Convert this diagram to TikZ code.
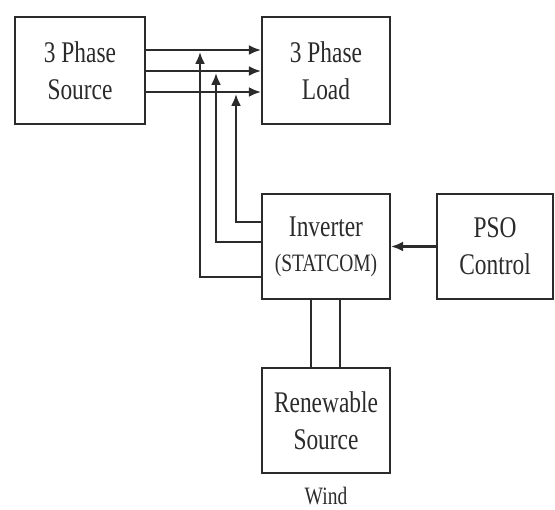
\documentclass[tikz,border=0pt]{standalone}
\usepackage{fontspec}
\setmainfont{Liberation Serif}[FakeStretch=0.78]
\usetikzlibrary{arrows.meta}
\definecolor{ink}{HTML}{2B2B2B}
\tikzset{
  blk/.style={draw=ink, line width=2.2pt, inner sep=0pt, align=center,
    font=\fontsize{30}{37}\selectfont, text=ink},
  wire/.style={draw=ink, line width=2.2pt},
  arr/.style={wire, -{Latex[length=12pt,width=10pt]}}
}
\begin{document}
\begin{tikzpicture}[x=1pt,y=-1pt]
\useasboundingbox (0,0) rectangle (555,510);
\node[blk, minimum width=130pt, minimum height=107pt] (src) at (80,70.5) {3 Phase\\Source};
\node[blk, minimum width=128pt, minimum height=107pt] (load) at (326,70.5) {3 Phase\\Load};
\node[blk, minimum width=128pt, minimum height=105pt] (inv) at (326,246.5) {Inverter\\[-2pt]{\fontsize{25}{30}\selectfont (STATCOM)}};
\node[blk, minimum width=116pt, minimum height=105pt] (pso) at (495,246.5) {PSO\\Control};
\node[blk, minimum width=128pt, minimum height=105pt] (ren) at (326,420.5) {Renewable\\Source};
\node[font=\fontsize{25}{28}\selectfont, text=ink] (wind) at (326,496) {Wind};
% three phase lines
\draw[arr] ([yshift=20.5pt]src.east) -- ([yshift=20.5pt]load.west);
\draw[arr] ([yshift=-0.5pt]src.east) -- ([yshift=-0.5pt]load.west);
\draw[arr] ([yshift=-21.5pt]src.east) -- ([yshift=-21.5pt]load.west);
% feedback from inverter
\coordinate (t1) at (200,52);
\coordinate (t2) at (216,73);
\coordinate (t3) at (236,94);
\draw[arr] ([yshift=24.5pt]inv.west) -| (t3);
\draw[arr] ([yshift=4.5pt]inv.west) -| (t2);
\draw[arr] ([yshift=-30.5pt]inv.west) -| (t1);
% PSO control
\draw[arr] (pso.west) -- (inv.east);
% renewable link
\draw[wire] ([xshift=-15pt]inv.south) -- ([xshift=-15pt]ren.north);
\draw[wire] ([xshift=14pt]inv.south) -- ([xshift=14pt]ren.north);
\end{tikzpicture}
\end{document}
